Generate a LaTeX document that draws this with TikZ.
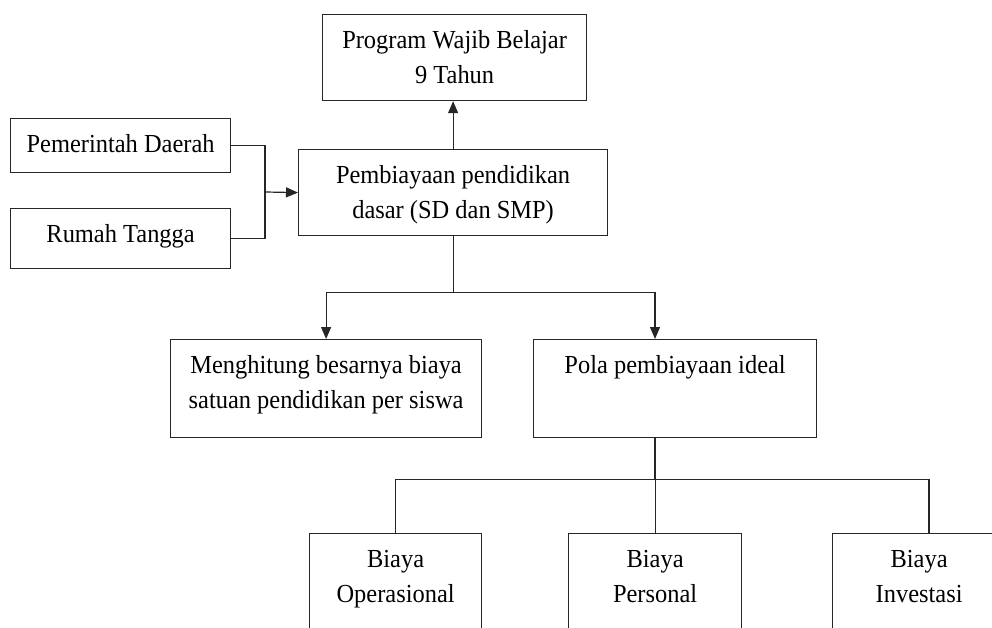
\documentclass[tikz,border=0pt]{standalone}
\usepackage{fontspec}
\setmainfont{Liberation Serif}[FakeStretch=0.94]
\usepackage{tikz}
\usetikzlibrary{arrows.meta,positioning}

\tikzset{
  box/.style={draw=black!85, line width=1.2pt, align=center, anchor=north west,
    inner xsep=0pt, inner ysep=10pt, text height=24pt,
    font=\fontsize{26}{35}\selectfont},
  twoline/.style={box, text height=59pt},
  link/.style={line width=1.2pt, black!85},
  arr/.style={link, -{Triangle[length=12pt,width=10pt]}}
}

\begin{document}
\begin{tikzpicture}[x=1pt,y=-1pt]
  \clip (0,0) rectangle (992,628);
  % upper part
  \node[twoline, minimum width=264pt, text depth=7pt] (prog) at (322,14) {Program Wajib Belajar\\9 Tahun};
  \node[twoline, minimum width=309pt, text depth=7pt] (pemb) at (298,149) {Pembiayaan pendidikan\\dasar (SD dan SMP)};
  \node[box, minimum width=220pt, text depth=10pt] (pemda) at (10,118) {Pemerintah Daerah};
  \node[box, minimum width=220pt, text depth=16pt] (rumah) at (10,208) {Rumah Tangga};
  % middle row
  \node[twoline, minimum width=311pt, text depth=19pt] (hitung) at (170,339) {Menghitung besarnya biaya\\satuan pendidikan per siswa};
  \node[box, minimum width=283pt, text depth=54pt] (pola) at (533,339) {Pola pembiayaan ideal};
  % bottom row (cut off by the page)
  \node[twoline, minimum width=172pt, text depth=65pt] (oper) at (309,533) {Biaya\\Operasional};
  \node[twoline, minimum width=173pt, text depth=65pt] (pers) at (568,533) {Biaya\\Personal};
  \node[twoline, minimum width=173pt, text depth=65pt] (inv) at (832,533) {Biaya\\Investasi};

  % connectors
  \coordinate (jn) at (265,192);
  \draw[link] (pemda.east) -| (jn);
  \draw[link] (rumah.east) -| (jn);
  \draw[arr] (jn) -- (pemb.west);
  \draw[arr] (pemb.north) -- (pemb.north |- prog.south);
  \draw[link] (pemb.south) -- ++(0,56) coordinate (sp1);
  \draw[arr] (sp1) -| (hitung.north);
  \draw[arr] (sp1) -| ([xshift=122pt]pola.north west);
  \draw[link] ([xshift=122pt]pola.south west) -- ++(0,41) coordinate (sp2);
  \draw[link] (sp2) -| (oper.north);
  \draw[link] (sp2) -| (pers.north);
  \draw[link] (sp2) -| ([xshift=97pt]inv.north west);
\end{tikzpicture}
\end{document}
